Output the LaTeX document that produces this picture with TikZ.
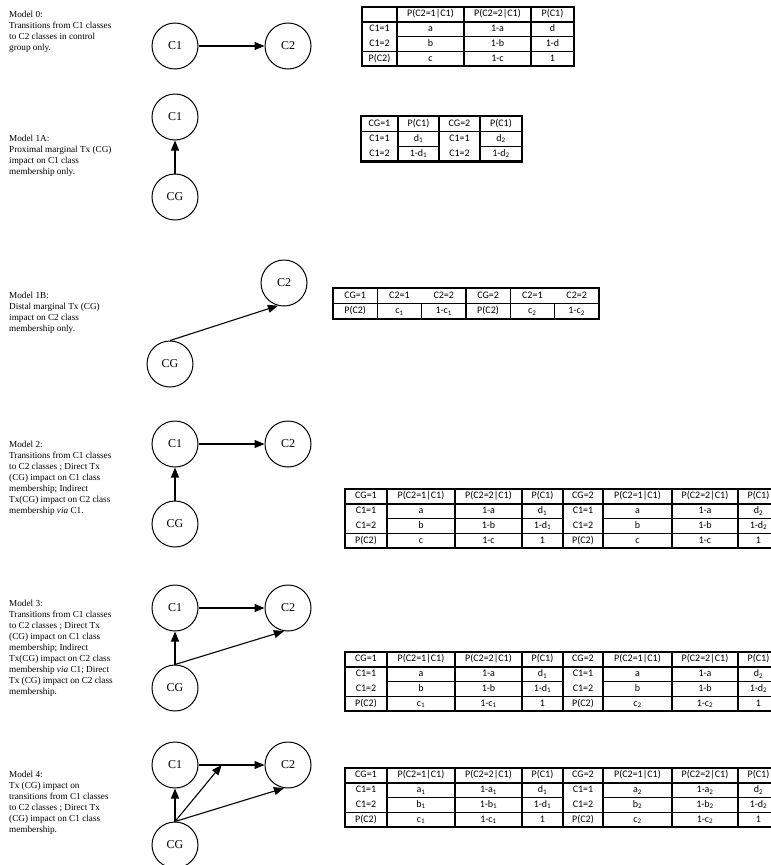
\documentclass[tikz,border=0pt]{standalone}
\usepackage{fontspec}
\setmainfont{Liberation Serif}
\newfontfamily\cellfont{Carlito}
\usetikzlibrary{arrows.meta, matrix, calc, positioning}
\tikzset{cell/.style={inner sep=0pt, outer sep=0pt, minimum height=14.8pt, text height=7pt, text depth=2.2pt, font=\cellfont\fontsize{10}{12}\selectfont},
table/.style={matrix of nodes, nodes in empty cells, anchor=north west, inner sep=0pt, outer sep=0pt, nodes={cell}},
%tables of models 2, 3 and 4
wide table/.style={table,
  column 1/.style={nodes={minimum width=42pt}},
  column 2/.style={nodes={minimum width=68pt}},
  column 3/.style={nodes={minimum width=67pt}},
  column 4/.style={nodes={minimum width=41pt}},
  column 5/.style={nodes={minimum width=40pt}},
  column 6/.style={nodes={minimum width=69pt}},
  column 7/.style={nodes={minimum width=66pt}},
  column 8/.style={nodes={minimum width=41pt}}},
rule/.style={line width=1.4pt},
frame/.style={line width=2.5pt}}

\begin{document}
\begin{tikzpicture}[-,x=1pt,y=-1pt,node distance=113pt,
                    >={Triangle[length=10pt,width=8pt]},
                    main node/.style={circle,draw,line width=1pt,minimum size=46pt,inner sep=0pt,font=\fontsize{12}{14}\selectfont},
                    model text/.style={anchor=north west,inner sep=0pt,align=left,font=\fontsize{9.2}{11}\selectfont}]
\useasboundingbox (0,0) rectangle (771,865);
\clip (0,0) rectangle (771,865);

%MODEL 0
  \node[model text] (0Text) at (9,11) {Model 0:\\Transitions from C1 classes\\to C2 classes in control\\group only.};
  \node[main node] (0C1) at (175,46) {C1};
  \node[main node] (0C2) [right of=0C1] {C2};
  \path[->,line width=1.1pt] (0C1) edge (0C2);

  \matrix (t0) [table, column 1/.style={nodes={minimum width=35pt}}, column 2/.style={nodes={minimum width=67pt}},
                column 3/.style={nodes={minimum width=67pt}}, column 4/.style={nodes={minimum width=43pt}}] at (362,7) {
         & P(C2=1|C1) & P(C2=2|C1) & P(C1)\\
    C1=1 & a & 1-a & d\\
    C1=2 & b & 1-b & 1-d\\
    P(C2) & c & 1-c & 1\\
  };
  \foreach \c in {2,3,4} \draw[rule] (t0-1-\c.north west) -- (t0-4-\c.south west);
  \foreach \r in {2,4} \draw[rule] (t0-\r-1.north west) -- (t0-\r-4.north east);
  \draw[rule] (t0-3-2.north west) -- (t0-3-4.north east);
  \draw[frame] (t0.north west) rectangle (t0.south east);

%MODEL 1A
  \node[model text] (1aText) at (9,135) {Model 1A:\\Proximal marginal Tx (CG)\\impact on C1 class\\membership only.};
  \node[main node] (1aC1) at (175,117) {C1};
  \node[main node,node distance=80pt] (1aCG) [below of=1aC1] {CG};
  \path[->,line width=1.1pt] (1aCG) edge (1aC1);

  \matrix (t1a) [table, nodes={minimum height=15.2pt}, column 1/.style={nodes={minimum width=37pt}}, column 2/.style={nodes={minimum width=41pt}},
                 column 3/.style={nodes={minimum width=41pt}}, column 4/.style={nodes={minimum width=42pt}}] at (361,116) {
    CG=1 & P(C1) & CG=2 & P(C1)\\
    C1=1 & d\textsubscript{1} & C1=1 & d\textsubscript{2}\\
    C1=2 & 1-d\textsubscript{1} & C1=2 & 1-d\textsubscript{2}\\
  };
  \foreach \c in {2,3,4} \draw[rule] (t1a-1-\c.north west) -- (t1a-3-\c.south west);
  \draw[rule] (t1a-2-1.north west) -- (t1a-2-4.north east);
  \foreach \c in {2,4} \draw[rule] (t1a-3-\c.north west) -- (t1a-3-\c.north east);
  \draw[frame] (t1a.north west) rectangle (t1a.south east);

%MODEL 1B
  \node[model text] (1bText) at (9,292) {Model 1B:\\Distal marginal Tx (CG)\\impact on C2 class\\membership only.};
  \node[main node] (1bC2) at (284,283) {C2};
  \node[main node] (1bCG) at (170,364) {CG};
  \path[->,line width=1.1pt] (1bCG.north) edge (1bC2.255);

  \matrix (t1b) [table, nodes={minimum width=44.3pt, minimum height=15.5pt}] at (333,288) {
    CG=1 & C2=1 & C2=2 & CG=2 & C2=1 & C2=2\\
    P(C2) & c\textsubscript{1} & 1-c\textsubscript{1} & P(C2) & c\textsubscript{2} & 1-c\textsubscript{2}\\
  };
  \foreach \c in {2,4,5} \draw[rule] (t1b-1-\c.north west) -- (t1b-2-\c.south west);
  \foreach \c in {3,6} \draw[rule] (t1b-2-\c.north west) -- (t1b-2-\c.south west);
  \draw[rule] (t1b-2-1.north west) -- (t1b-2-6.north east);
  \draw[frame] (t1b.north west) rectangle (t1b.south east);

%MODEL 2
  \node[model text] (2Text) at (9,441) {Model 2:\\Transitions from C1 classes\\to C2 classes ; Direct Tx\\(CG) impact on C1 class\\membership; Indirect\\Tx(CG) impact on C2 class\\membership \textit{via} C1.};
  \node[main node] (2C1) at (175,444) {C1};
  \node[main node] (2C2) [right of=2C1] {C2};
  \node[main node,node distance=80pt] (2CG) [below of=2C1] {CG};
  \path[->,line width=1.1pt]
    (2C1) edge (2C2)
    (2CG) edge (2C1);

  \matrix (t2) [wide table] at (345,489) {
    CG=1 & P(C2=1|C1) & P(C2=2|C1) & P(C1) & CG=2 & P(C2=1|C1) & P(C2=2|C1) & P(C1)\\
    C1=1 & a & 1-a & d\textsubscript{1} & C1=1 & a & 1-a & d\textsubscript{2}\\
    C1=2 & b & 1-b & 1-d\textsubscript{1} & C1=2 & b & 1-b & 1-d\textsubscript{2}\\
    P(C2) & c & 1-c & 1 & P(C2) & c & 1-c & 1\\
  };

%MODEL 3
  \node[model text] (3Text) at (9,600) {Model 3:\\Transitions from C1 classes\\to C2 classes ; Direct Tx\\(CG) impact on C1 class\\membership; Indirect\\Tx(CG) impact on C2 class\\membership \textit{via} C1; Direct\\Tx (CG) impact on C2 class\\membership.};
  \node[main node] (3C1) at (175,608) {C1};
  \node[main node] (3C2) [right of=3C1] {C2};
  \node[main node,node distance=80pt] (3CG) [below of=3C1] {CG};
  \path[->,line width=1.1pt]
    (3C1) edge (3C2)
    (3CG) edge (3C1)
    (3CG.north) edge (3C2.260);

  \matrix (t3) [wide table] at (345,652) {
    CG=1 & P(C2=1|C1) & P(C2=2|C1) & P(C1) & CG=2 & P(C2=1|C1) & P(C2=2|C1) & P(C1)\\
    C1=1 & a & 1-a & d\textsubscript{1} & C1=1 & a & 1-a & d\textsubscript{2}\\
    C1=2 & b & 1-b & 1-d\textsubscript{1} & C1=2 & b & 1-b & 1-d\textsubscript{2}\\
    P(C2) & c\textsubscript{1} & 1-c\textsubscript{1} & 1 & P(C2) & c\textsubscript{2} & 1-c\textsubscript{2} & 1\\
  };

%MODEL 4
  \node[model text] (4Text) at (9,771) {Model 4:\\Tx (CG) impact on\\transitions from C1 classes\\to C2 classes ; Direct Tx\\(CG) impact on C1 class\\membership.};
  \node[main node] (4C1) at (175,765) {C1};
  \node[main node] (4C2) [right of=4C1] {C2};
  \node[main node,node distance=80pt] (4CG) [below of=4C1] {CG};
  \coordinate (4Mid) at ($(4C1.east)!0.35!(4C2.west)$);
  \path[->,line width=1.1pt]
    (4C1) edge (4C2)
    (4CG) edge (4C1)
    (4CG.north) edge (4Mid)
    (4CG.north) edge (4C2.260);

  \matrix (t4) [wide table] at (345,768) {
    CG=1 & P(C2=1|C1) & P(C2=2|C1) & P(C1) & CG=2 & P(C2=1|C1) & P(C2=2|C1) & P(C1)\\
    C1=1 & a\textsubscript{1} & 1-a\textsubscript{1} & d\textsubscript{1} & C1=1 & a\textsubscript{2} & 1-a\textsubscript{2} & d\textsubscript{2}\\
    C1=2 & b\textsubscript{1} & 1-b\textsubscript{1} & 1-d\textsubscript{1} & C1=2 & b\textsubscript{2} & 1-b\textsubscript{2} & 1-d\textsubscript{2}\\
    P(C2) & c\textsubscript{1} & 1-c\textsubscript{1} & 1 & P(C2) & c\textsubscript{2} & 1-c\textsubscript{2} & 1\\
  };

%TABLE RULES
  \foreach \t in {t2,t3,t4} {
    \foreach \c in {2,...,8} \draw[rule] (\t-1-\c.north west) -- (\t-4-\c.south west);
    \foreach \r in {2,4} \draw[rule] (\t-\r-1.north west) -- (\t-\r-8.north east);
    \foreach \c in {2,3,4,6,7,8} \draw[rule] (\t-3-\c.north west) -- (\t-3-\c.north east);
    \draw[frame] (\t.north west) rectangle (\t.south east);
  }

\end{tikzpicture}
\end{document}
